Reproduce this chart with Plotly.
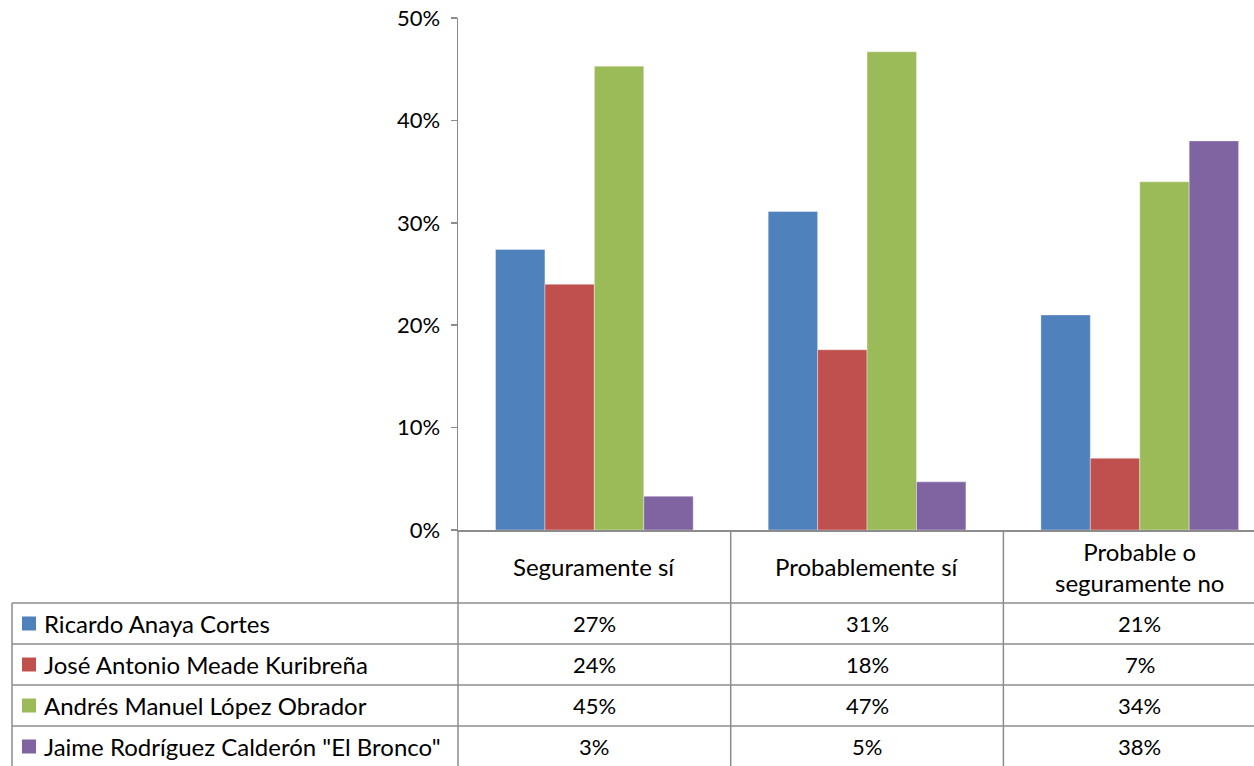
import plotly.graph_objects as go

categories = ["Seguramente sí", "Probablemente sí", "Probable o<br>seguramente no"]
series_names = ["Ricardo Anaya Cortes", "José Antonio Meade Kuribreña",
                "Andrés Manuel López Obrador", 'Jaime Rodríguez Calderón "El Bronco"']
anaya = [27.4, 31.1, 21.0]
meade = [24.0, 17.6, 7.0]
amlo = [45.3, 46.7, 34.0]
bronco = [3.3, 4.7, 38.0]
series_values = [anaya, meade, amlo, bronco]
colors = ["#4F81BD", "#C0504D", "#9BBB59", "#8064A2"]
y_ticks = [0, 10, 20, 30, 40, 50]
y_tick_labels = ["0%", "10%", "20%", "30%", "40%", "50%"]

W, H = 1254, 766
L, T = 458, 18
plot_h = 512
B = H - T - plot_h
plot_w = W - L
FONT = "Lato, Calibri, sans-serif"
FS_TXT = 24
FS_NUM = 22
GRID = "#8C8C8C"

xpos = list(range(len(categories)))

fig = go.Figure()
for name, vals, col in zip(series_names, series_values, colors):
    fig.add_trace(go.Bar(x=xpos, y=vals, name=name,
                         marker=dict(color=col, line=dict(color="rgba(255,255,255,0.6)", width=0.6)),
                         hoverinfo="skip"))

def yp(py):  # page pixel -> paper y
    return (T + plot_h - py) / plot_h

def xp(px):  # page pixel -> paper x
    return (px - L) / plot_w

shapes = []
row_top = 603
row_h = 41
n_rows = len(series_names)
bottom_py = row_top + row_h * n_rows
for i in range(n_rows + 1):
    py = row_top + i * row_h
    shapes.append(dict(type="line", xref="paper", yref="paper", x0=xp(12), x1=1.05, y0=yp(py), y1=yp(py),
                       line=dict(color=GRID, width=1.5)))
shapes.append(dict(type="line", xref="paper", yref="paper", x0=xp(12), x1=xp(12), y0=yp(row_top), y1=yp(bottom_py),
                   line=dict(color=GRID, width=1.5)))
shapes.append(dict(type="line", xref="paper", yref="paper", x0=0, x1=0, y0=0, y1=yp(bottom_py),
                   line=dict(color=GRID, width=1.5)))
for k in range(1, len(categories) + 1):
    shapes.append(dict(type="line", xref="x", yref="paper", x0=k - 0.5, x1=k - 0.5, y0=0, y1=yp(bottom_py),
                       line=dict(color=GRID, width=1.5)))
for i, col in enumerate(colors):
    cy = row_top + i * row_h + row_h / 2
    shapes.append(dict(type="rect", xref="paper", yref="paper", x0=xp(22), x1=xp(36), y0=yp(cy - 7), y1=yp(cy + 7),
                       fillcolor=col, line=dict(width=0)))

annotations = []
for k, cat in enumerate(categories):
    annotations.append(dict(x=k, y=yp((530 + row_top) / 2), xref="x", yref="paper", text=cat, showarrow=False,
                            xanchor="center", yanchor="middle",
                            font=dict(family=FONT, size=FS_TXT, color="black")))
for i, (name, vals) in enumerate(zip(series_names, series_values)):
    cy = row_top + i * row_h + row_h / 2
    annotations.append(dict(x=xp(42), y=yp(cy), xref="paper", yref="paper", text=name, showarrow=False,
                            xanchor="left", yanchor="middle", font=dict(family=FONT, size=FS_TXT, color="black")))
    for k, v in enumerate(vals):
        annotations.append(dict(x=k, y=yp(cy), xref="x", yref="paper", text=f"{round(v)}%", showarrow=False,
                                xanchor="center", yanchor="middle",
                                font=dict(family=FONT, size=FS_NUM, color="black")))

fig.update_layout(
    width=W, height=H,
    margin=dict(l=L, r=0, t=T, b=B, pad=0, autoexpand=False),
    paper_bgcolor="white", plot_bgcolor="white",
    barmode="group", bargap=0.275, bargroupgap=0,
    showlegend=False,
    font=dict(family=FONT, size=FS_NUM, color="black"),
    shapes=shapes, annotations=annotations,
    xaxis=dict(range=[-0.5, -0.5 + plot_w / 272.7], showticklabels=False, ticks="", showgrid=False,
               zeroline=False, showline=True, linecolor=GRID, linewidth=1.5, tickmode="array", tickvals=xpos,
               automargin=False),
    yaxis=dict(range=[0, 50], tickmode="array", tickvals=y_ticks, ticktext=y_tick_labels, showgrid=False,
               zeroline=False, showline=True, linecolor=GRID, linewidth=1.5, ticks="outside", ticklen=6,
               tickcolor=GRID, tickwidth=1.5, ticklabelstandoff=6, ticklabeloverflow="allow",
               automargin=False, tickfont=dict(family=FONT, size=FS_NUM, color="black")),
    hovermode=False,
)

fig.write_html("out.html", config={"displayModeBar": False, "staticPlot": True},
               post_script="document.body.style.margin='0';document.body.style.overflow='hidden';")
